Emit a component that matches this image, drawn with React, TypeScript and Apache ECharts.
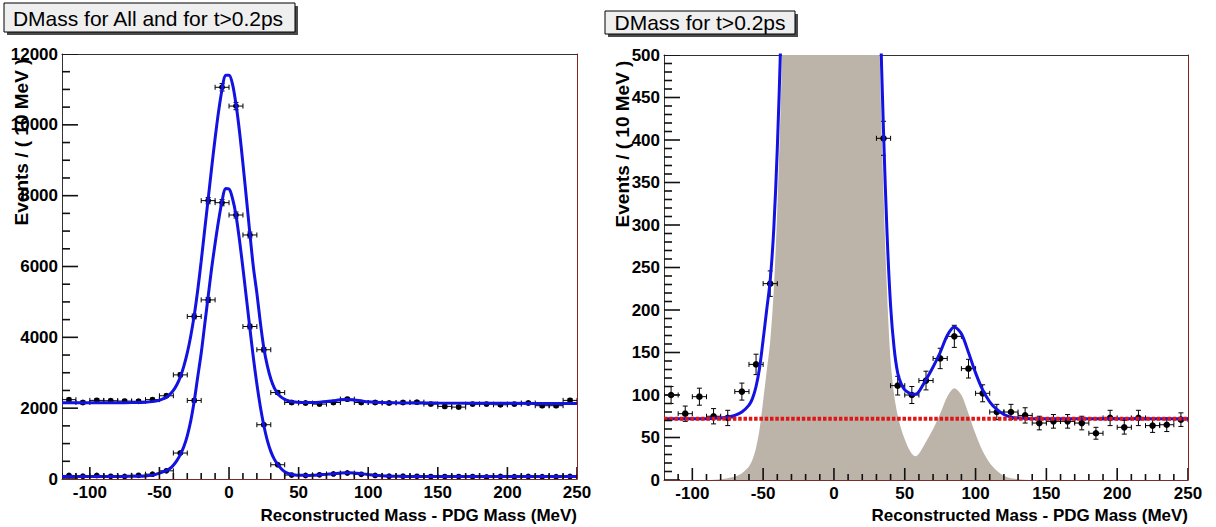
import React, { useEffect, useRef } from 'react';
import * as echarts from 'echarts';

// ---------- data ----------
const binCenters = [-115, -105, -95, -85, -75, -65, -55, -45, -35, -25, -15, -5, 5, 15, 25, 35, 45, 55, 65, 75, 85, 95, 105, 115, 125, 135, 145, 155, 165, 175, 185, 195, 205, 215, 225, 235, 245];
const binHalfWidth = 5;

const allCounts = [2240, 2160, 2220, 2210, 2200, 2195, 2240, 2350, 2940, 4590, 7860, 11060, 10530, 6890, 3650, 2440, 2160, 2145, 2115, 2160, 2255, 2160, 2160, 2145, 2160, 2170, 2115, 2050, 2030, 2115, 2115, 2095, 2115, 2145, 2070, 2070, 2220];
const allErrors = [47, 46, 47, 47, 47, 47, 47, 48, 54, 68, 89, 105, 103, 83, 60, 49, 46, 46, 46, 46, 47, 46, 46, 46, 46, 47, 46, 45, 45, 46, 46, 46, 46, 46, 45, 45, 47];

const tCounts = [100, 78, 98, 75, 73, 104, 136, 231, 733, 2218, 5057, 7802, 7454, 4305, 1532, 402, 111, 100, 117, 143, 169, 131, 102, 80, 80, 76, 67, 69, 69, 67, 55, 73, 62, 73, 64, 65, 71];
const tErrors = [10, 9, 10, 9, 9, 10, 12, 15, 27, 47, 71, 88, 86, 66, 39, 20, 11, 10, 11, 12, 13, 11, 10, 9, 9, 9, 8, 8, 8, 8, 7, 9, 8, 9, 8, 8, 8];

const fitAllX = [-120, -100, -80, -70, -60, -55, -50, -47.5, -45, -42.5, -40, -37.5, -35, -32.5, -30, -27.5, -25, -22.5, -20, -17.5, -15, -12.5, -10, -7.5, -5, -2.5, 0, 2.5, 5, 7.5, 10, 12.5, 15, 17.5, 20, 22.5, 25, 27.5, 30, 32.5, 35, 37.5, 40, 42.5, 45, 47.5, 50, 55, 60, 65, 70, 75, 80, 85, 90, 95, 100, 110, 120, 150, 200, 250];
const fitAllY = [2150, 2150, 2152, 2158, 2168, 2185, 2225, 2260, 2310, 2390, 2500, 2660, 2880, 3180, 3560, 4040, 4620, 5330, 6150, 7030, 7900, 8780, 9620, 10380, 11000, 11400, 11400, 11150, 10580, 9820, 8900, 7920, 6920, 5980, 5250, 4420, 3700, 3200, 2830, 2570, 2410, 2310, 2250, 2210, 2185, 2172, 2165, 2160, 2162, 2170, 2185, 2210, 2235, 2245, 2232, 2205, 2180, 2160, 2152, 2145, 2138, 2130];

const fitTX = [-120, -110, -100, -90, -80, -75, -70, -65, -60, -57.5, -55, -52.5, -50, -47.5, -45, -42.5, -40, -37.5, -35, -32.5, -30, -27.5, -25, -22.5, -20, -17.5, -15, -12.5, -10, -7.5, -5, -2.5, 0, 2.5, 5, 7.5, 10, 12.5, 15, 17.5, 20, 22.5, 25, 27.5, 30, 32.5, 35, 37.5, 40, 42.5, 45, 47.5, 50, 52.5, 55, 57.5, 60, 65, 70, 75, 80, 85, 90, 95, 100, 105, 110, 115, 120, 125, 130, 140, 150, 175, 200, 225, 250];
const fitTY = [72, 72, 72, 72, 73, 74, 76, 80, 88, 96, 110, 132, 165, 200, 235, 295, 390, 520, 690, 910, 1220, 1640, 2200, 2880, 3550, 4350, 5150, 5950, 6650, 7300, 7850, 8200, 8190, 7920, 7450, 6750, 5950, 5100, 4250, 3420, 2680, 2040, 1510, 1090, 780, 560, 410, 290, 205, 155, 126, 113, 106, 103, 101, 101, 104, 118, 133, 150, 170, 180, 172, 150, 126, 106, 92, 83, 77, 74, 73, 72, 72, 72, 72, 72, 72];
const signalY = [0, 0, 0, 0, 1, 2, 4, 8, 16, 24, 38, 60, 93, 128, 163, 223, 318, 448, 618, 838, 1148, 1568, 2128, 2808, 3478, 4278, 5078, 5878, 6578, 7228, 7778, 8128, 8118, 7848, 7378, 6678, 5878, 5028, 4178, 3348, 2608, 1968, 1438, 1018, 708, 488, 338, 220, 140, 100, 76, 60, 48, 38, 31, 28, 31, 45, 60, 78, 98, 108, 100, 78, 54, 34, 20, 11, 5, 2, 1, 0, 0, 0, 0, 0, 0];
const bgX = [-120, 250];
const bgY = [72, 72];

// tick positions
const xMajorTicks = [-100, -50, 0, 50, 100, 150, 200, 250];
const xMinorTicks = [-110, -90, -80, -70, -60, -40, -30, -20, -10, 10, 20, 30, 40, 60, 70, 80, 90, 110, 120, 130, 140, 160, 170, 180, 190, 210, 220, 230, 240];
const yAllMajorTicks = [0, 2000, 4000, 6000, 8000, 10000, 12000];
const yAllMinorTicks = [500, 1000, 1500, 2500, 3000, 3500, 4500, 5000, 5500, 6500, 7000, 7500, 8500, 9000, 9500, 10500, 11000, 11500];
const yTMajorTicks = [0, 50, 100, 150, 200, 250, 300, 350, 400, 450, 500];
const yTMinorTicks = [10, 20, 30, 40, 60, 70, 80, 90, 110, 120, 130, 140, 160, 170, 180, 190, 210, 220, 230, 240, 260, 270, 280, 290, 310, 320, 330, 340, 360, 370, 380, 390, 410, 420, 430, 440, 460, 470, 480, 490];

const titleLeft = 'DMass for All and for t>0.2ps';
const titleRight = 'DMass for t>0.2ps';
const xName = 'Reconstructed Mass - PDG Mass (MeV)';
const yName = 'Events / ( 10 MeV )';

// ---------- styling ----------
const FONT = '"Liberation Sans", Arial, Helvetica, sans-serif';
const BLUE = '#1212e2';
const GREY = '#bcb3a9';
const RED = '#e01515';
const TICK = '#111111';
const tickLabel = { fontFamily: FONT, fontWeight: 'bold' as const, fontSize: 17, color: '#000' };
const XMIN = -120;
const XMAX = 250;

const pairs = (xs: number[], ys: number[]) => xs.map((x, i) => [x, ys[i]]);
const errPts = (counts: number[], errs: number[]) =>
  binCenters.map((x, i) => [x, counts[i], binHalfWidth, errs[i]]);

function errorBars(radius: number) {
  return (_params: any, api: any) => {
    const x = api.value(0);
    const y = api.value(1);
    const ex = api.value(2);
    const ey = api.value(3);
    const c = api.coord([x, y]);
    const l = api.coord([x - ex, y]);
    const r = api.coord([x + ex, y]);
    const t = api.coord([x, y + ey]);
    const b = api.coord([x, y - ey]);
    const st = { stroke: '#000', lineWidth: 1 };
    const cap = 2.5;
    return {
      type: 'group',
      children: [
        { type: 'line', shape: { x1: l[0], y1: c[1], x2: r[0], y2: c[1] }, style: st },
        { type: 'line', shape: { x1: l[0], y1: c[1] - cap, x2: l[0], y2: c[1] + cap }, style: st },
        { type: 'line', shape: { x1: r[0], y1: c[1] - cap, x2: r[0], y2: c[1] + cap }, style: st },
        { type: 'line', shape: { x1: c[0], y1: t[1], x2: c[0], y2: b[1] }, style: st },
        { type: 'line', shape: { x1: c[0] - cap, y1: t[1], x2: c[0] + cap, y2: t[1] }, style: st },
        { type: 'line', shape: { x1: c[0] - cap, y1: b[1], x2: c[0] + cap, y2: b[1] }, style: st },
        { type: 'circle', shape: { cx: c[0], cy: c[1], r: radius }, style: { fill: '#000' } },
      ],
    };
  };
}

// tick marks pointing into the frame, placed through the axes' own scales.
// item: [x, y, dx, dy] -> a line from the axis point (x, y) to (x + dx, y + dy) in value units
function tickMarks(_params: any, api: any) {
  const a = api.coord([api.value(0), api.value(1)]);
  const b = api.coord([api.value(0) + api.value(2), api.value(1) + api.value(3)]);
  return {
    type: 'group',
    children: [
      { type: 'line', shape: { x1: a[0], y1: a[1], x2: b[0], y2: b[1] }, style: { stroke: TICK, lineWidth: 1.6 } },
    ],
  };
}
const xTickData = (vals: number[], lenY: number) => vals.map((v) => [v, 0, 0, lenY]);
const yTickData = (vals: number[], lenX: number) => vals.map((v) => [XMIN, v, lenX, 0]);

const noSplit = { show: false };

const bottomX = (gi: number) => ({
  type: 'value', gridIndex: gi, position: 'bottom', min: XMIN, max: XMAX,
  axisLine: { show: true, onZero: false, lineStyle: { color: '#7a2b2b', width: 1 } },
  axisTick: { show: false },
  axisLabel: { show: true, customValues: xMajorTicks, margin: 5, ...tickLabel },
  splitLine: noSplit,
});
const topX = (gi: number) => ({
  type: 'value', gridIndex: gi, position: 'top', min: XMIN, max: XMAX,
  axisLine: { show: true, onZero: false, lineStyle: { color: '#333' } },
  axisTick: { show: false }, axisLabel: { show: false }, splitLine: noSplit,
});
const leftY = (gi: number, max: number, interval: number) => ({
  type: 'value', gridIndex: gi, position: 'left', min: 0, max, interval,
  axisLine: { show: true, onZero: false, lineStyle: { color: '#333' } },
  axisTick: { show: false },
  axisLabel: { margin: 4, ...tickLabel, formatter: (v: number) => String(v) },
  splitLine: noSplit,
});
const rightY = (gi: number, max: number) => ({
  type: 'value', gridIndex: gi, position: 'right', min: 0, max,
  axisLine: { show: true, onZero: false, lineStyle: { color: '#8b2020' } },
  axisTick: { show: false }, axisLabel: { show: false }, splitLine: noSplit,
});

function titleBox(x: number, y: number, w: number, h: number, text: string, cx: number, cy: number) {
  return [
    { type: 'rect', shape: { x: x + 3, y: y + 3, width: w, height: h }, style: { fill: '#4a4a4a' }, silent: true },
    { type: 'rect', shape: { x, y, width: w, height: h }, style: { fill: '#efefef', stroke: '#000', lineWidth: 1 }, silent: true },
    {
      type: 'text', x: cx, y: cy,
      style: { text, fontFamily: FONT, fontSize: 21, fill: '#000', align: 'center', verticalAlign: 'middle', textAlign: 'center', textVerticalAlign: 'middle' },
    },
  ];
}
function yTitle(x: number, y: number) {
  return {
    type: 'text', x, y, rotation: Math.PI / 2,
    style: { text: yName, fontFamily: FONT, fontWeight: 'bold', fontSize: 19, fill: '#000', align: 'center', verticalAlign: 'middle', textAlign: 'center', textVerticalAlign: 'middle' },
  };
}
function xTitle(x: number, y: number) {
  return {
    type: 'text', x, y,
    style: { text: xName, fontFamily: FONT, fontWeight: 'bold', fontSize: 17, fill: '#000', align: 'right', verticalAlign: 'middle', textAlign: 'right', textVerticalAlign: 'middle' },
  };
}

function buildOption() {
  const curve = (xi: number, yi: number, data: number[][]) => ({
    type: 'line', xAxisIndex: xi, yAxisIndex: yi, data, showSymbol: false, symbol: 'none',
    smooth: 0.3, clip: true, z: 5,
    lineStyle: { color: BLUE, width: 3 },
  });
  const points = (xi: number, yi: number, data: number[][], radius: number) => ({
    type: 'custom', xAxisIndex: xi, yAxisIndex: yi, data, clip: true, z: 3,
    encode: { x: 0, y: 1 }, renderItem: errorBars(radius),
  });
  const ticks = (xi: number, yi: number, data: number[][]) => ({
    type: 'custom', xAxisIndex: xi, yAxisIndex: yi, data, clip: true, z: 8,
    encode: { x: 0, y: 1 }, renderItem: tickMarks,
  });
  // tick lengths in axis units: left panel 515px / 370 MeV, 425px / 12000; right panel 524px / 370 MeV, 425px / 500
  const lx = 370 / 515;
  const ly = 12000 / 425;
  const rx = 370 / 524;
  const ry = 500 / 425;
  return {
    animation: false,
    backgroundColor: '#ffffff',
    grid: [
      { left: 62, top: 54, width: 515, height: 425, containLabel: false, outerBoundsMode: 'none' },
      { left: 664, top: 55, width: 524, height: 425, containLabel: false, outerBoundsMode: 'none' },
    ],
    xAxis: [bottomX(0), topX(0), bottomX(1), topX(1)],
    yAxis: [leftY(0, 12000, 2000), rightY(0, 12000), leftY(1, 500, 50), rightY(1, 500)],
    series: [
      // left panel
      points(0, 0, errPts(allCounts, allErrors), 2.9),
      points(0, 0, errPts(tCounts, tErrors), 2.9),
      curve(0, 0, pairs(fitAllX, fitAllY)),
      curve(0, 0, pairs(fitTX, fitTY)),
      ticks(0, 0, xTickData(xMajorTicks, 12 * ly)),
      ticks(0, 0, xTickData(xMinorTicks, 6 * ly)),
      ticks(0, 0, yTickData(yAllMajorTicks, 16 * lx)),
      ticks(0, 0, yTickData(yAllMinorTicks, 8 * lx)),
      // right panel
      {
        type: 'line', xAxisIndex: 2, yAxisIndex: 2, data: pairs(fitTX, signalY), showSymbol: false, symbol: 'none',
        smooth: 0.3, clip: true, z: 1,
        lineStyle: { width: 0, color: GREY }, areaStyle: { color: GREY, opacity: 1 },
      },
      points(2, 2, errPts(tCounts, tErrors), 3.3),
      curve(2, 2, pairs(fitTX, fitTY)),
      {
        type: 'line', xAxisIndex: 2, yAxisIndex: 2, data: pairs(bgX, bgY), showSymbol: false, symbol: 'none',
        clip: true, z: 6,
        lineStyle: { color: RED, width: 4, type: [3.5, 1.8] },
      },
      ticks(2, 2, xTickData(xMajorTicks, 12 * ry)),
      ticks(2, 2, xTickData(xMinorTicks, 6 * ry)),
      ticks(2, 2, yTickData(yTMajorTicks, 16 * rx)),
      ticks(2, 2, yTickData(yTMinorTicks, 8 * rx)),
    ],
    graphic: [
      ...titleBox(4, 3, 291, 29, titleLeft, 148, 18.5),
      ...titleBox(605, 11, 190, 23, titleRight, 700, 22.5),
      yTitle(21, 142),
      yTitle(622, 144),
      xTitle(577, 515),
      xTitle(1188, 515),
    ],
  };
}

export default function App() {
  const ref = useRef<HTMLDivElement>(null);
  useEffect(() => {
    if (!ref.current) return;
    const chart = echarts.init(ref.current, null, { renderer: 'svg' });
    chart.setOption(buildOption() as any);
    return () => chart.dispose();
  }, []);
  return (
    <div
      ref={ref}
      style={{ position: 'absolute', left: 0, top: 0, width: 1216, height: 527, background: '#fff' }}
    />
  );
}
